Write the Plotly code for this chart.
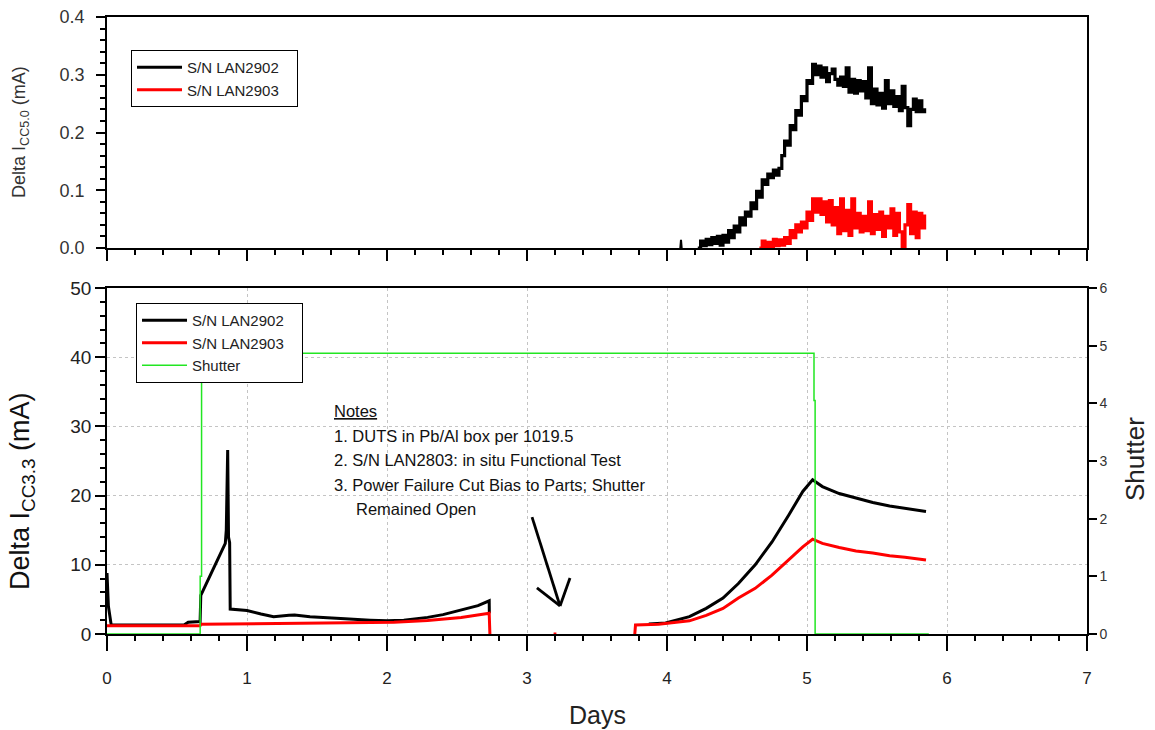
import plotly.graph_objects as go

# ---------------- data ----------------
# Top panel: Delta Icc5.0 (mA)
top_spike_days = [4.095, 4.100, 4.105]
top_spike_vals = [0.000, 0.014, 0.000]

top_2902_days = [4.22, 4.24, 4.26, 4.28, 4.30, 4.32, 4.34, 4.36, 4.38, 4.40,
                 4.42, 4.44, 4.46, 4.48, 4.50, 4.52, 4.54, 4.56, 4.58, 4.60,
                 4.62, 4.64, 4.66, 4.68, 4.70, 4.72, 4.74, 4.76, 4.78, 4.80,
                 4.82, 4.84, 4.86, 4.88, 4.90, 4.92, 4.94, 4.96, 4.98, 5.00,
                 5.02, 5.04, 5.06, 5.08, 5.10, 5.12, 5.14, 5.16, 5.18, 5.20,
                 5.22, 5.24, 5.26, 5.28, 5.30, 5.32, 5.34, 5.36, 5.38, 5.40,
                 5.42, 5.44, 5.46, 5.48, 5.50, 5.52, 5.54, 5.56, 5.58, 5.60,
                 5.62, 5.64, 5.66, 5.68, 5.70, 5.72, 5.74, 5.76, 5.78, 5.80,
                 5.82, 5.84]
top_2902_vals = [0.000, 0.012, 0.004, 0.015, 0.006, 0.018, 0.008, 0.020, 0.005, 0.022,
                 0.010, 0.030, 0.018, 0.038, 0.028, 0.052, 0.040, 0.062, 0.055, 0.078,
                 0.068, 0.098, 0.088, 0.118, 0.110, 0.128, 0.122, 0.135, 0.126, 0.138,
                 0.160, 0.185, 0.178, 0.212, 0.205, 0.238, 0.230, 0.262, 0.255, 0.290,
                 0.285, 0.318, 0.300, 0.315, 0.296, 0.312, 0.288, 0.302, 0.310, 0.292,
                 0.282, 0.296, 0.280, 0.312, 0.270, 0.292, 0.268, 0.290, 0.272, 0.288,
                 0.260, 0.312, 0.250, 0.275, 0.248, 0.268, 0.242, 0.290, 0.250, 0.272,
                 0.245, 0.262, 0.238, 0.280, 0.243, 0.212, 0.240, 0.258, 0.236, 0.255,
                 0.236, 0.242]

top_2903_days = [4.66, 4.68, 4.70, 4.72, 4.74, 4.76, 4.78, 4.80, 4.82, 4.84,
                 4.86, 4.88, 4.90, 4.92, 4.94, 4.96, 4.98, 5.00, 5.02, 5.04,
                 5.06, 5.08, 5.10, 5.12, 5.14, 5.16, 5.18, 5.20, 5.22, 5.24,
                 5.26, 5.28, 5.30, 5.32, 5.34, 5.36, 5.38, 5.40, 5.42, 5.44,
                 5.46, 5.48, 5.50, 5.52, 5.54, 5.56, 5.58, 5.60, 5.62, 5.64,
                 5.66, 5.68, 5.70, 5.72, 5.74, 5.76, 5.78, 5.80, 5.82, 5.84]
top_2903_vals = [0.000, 0.012, 0.002, 0.010, 0.000, 0.015, 0.004, 0.014, 0.005, 0.018,
                 0.008, 0.030, 0.018, 0.040, 0.028, 0.045, 0.035, 0.062, 0.048, 0.085,
                 0.062, 0.085, 0.058, 0.080, 0.045, 0.082, 0.040, 0.070, 0.025, 0.085,
                 0.030, 0.065, 0.022, 0.085, 0.035, 0.060, 0.028, 0.055, 0.030, 0.080,
                 0.025, 0.058, 0.032, 0.062, 0.020, 0.055, 0.035, 0.068, 0.022, 0.060,
                 0.028, 0.000, 0.040, 0.075, 0.025, 0.062, 0.018, 0.060, 0.035, 0.058]

# Bottom panel: Delta Icc3.3 (mA)
bot_2902_days = [0.000, 0.010, 0.030, 0.550, 0.580, 0.665, 0.670, 0.700, 0.760, 0.820,
                 0.845, 0.852, 0.858, 0.862, 0.868, 0.876, 0.880, 0.950, 1.000, 1.100,
                 1.190, 1.300, 1.340, 1.450, 1.570, 1.700, 1.880, 2.000, 2.120, 2.290,
                 2.400, 2.530, 2.650, 2.730, 2.731, None,
                 3.870, 3.990, 4.160, 4.280, 4.400, 4.510, 4.630, 4.750, 4.870, 4.970,
                 5.040, 5.110, 5.230, 5.350, 5.470, 5.590, 5.700, 5.850]
bot_2902_vals = [8.8, 4.0, 1.3, 1.3, 1.7, 1.8, 5.6, 6.9, 9.4, 12.0,
                 13.1, 15.0, 22.0, 26.6, 14.0, 13.2, 3.6, 3.5, 3.4, 2.9,
                 2.5, 2.7, 2.75, 2.5, 2.4, 2.2, 2.0, 1.9, 2.0, 2.4,
                 2.8, 3.5, 4.1, 4.8, 3.0, None,
                 1.45, 1.6, 2.5, 3.7, 5.2, 7.3, 10.0, 13.3, 17.2, 20.6,
                 22.3, 21.3, 20.3, 19.6, 19.0, 18.5, 18.2, 17.7]

bot_2903_days = [0.000, 0.665, 0.670, 1.000, 1.500, 2.050, 2.290, 2.530, 2.730, 2.735,
                 None, 3.190, 3.210, None,
                 3.770, 3.775, 3.940, 4.160, 4.280, 4.400, 4.510, 4.630, 4.750, 4.870,
                 4.970, 5.040, 5.110, 5.230, 5.350, 5.470, 5.590, 5.700, 5.850]
bot_2903_vals = [1.2, 1.2, 1.4, 1.45, 1.55, 1.7, 1.95, 2.4, 3.0, 0.0,
                 None, 0.0, 0.0, None,
                 0.0, 1.3, 1.4, 1.9, 2.7, 3.7, 5.2, 6.6, 8.5, 10.7,
                 12.6, 13.7, 13.1, 12.5, 12.0, 11.7, 11.3, 11.1, 10.7]

shutter_days = [0.0, 0.6655, 0.6655, 0.6755, 0.6755, 5.050, 5.050, 5.058, 5.058, 5.870]
shutter_vals = [0.0, 0.0, 1.0, 1.0, 4.87, 4.87, 4.05, 4.05, 0.0, 0.0]

notes_lines = ["<u>Notes</u>",
               "1. DUTS in Pb/Al box per 1019.5",
               "2. S/N LAN2803: in situ Functional Test",
               "3. Power Failure Cut Bias to Parts; Shutter",
               "Remained Open"]
notes_x = [1.607, 1.607, 1.607, 1.607, 1.764]
notes_y = [32.2, 28.6, 25.1, 21.5, 18.1]

legend_pad = "\u00a0\u00a0\u00a0"

# arrow (tail, tip, two head arms) in data coordinates of the lower panel
arrow_tail = (3.036, 16.9)
arrow_tip = (3.236, 4.05)
arrow_arm1 = (3.071, 6.65)
arrow_arm2 = (3.307, 8.09)

FONT = "Liberation Sans, Arial, sans-serif"
BLACK = "#000000"
RED = "#ff0000"
GREEN = "#22e622"

fig = go.Figure()

# top panel traces
fig.add_trace(go.Scatter(x=top_spike_days, y=top_spike_vals, mode="lines",
                         line=dict(color=BLACK, width=2), showlegend=False,
                         xaxis="x", yaxis="y"))
fig.add_trace(go.Scatter(x=top_2902_days, y=top_2902_vals, mode="lines",
                         line=dict(color=BLACK, width=3.2, shape="hv"),
                         name="S/N LAN2902" + legend_pad, legend="legend",
                         xaxis="x", yaxis="y"))
fig.add_trace(go.Scatter(x=top_2903_days, y=top_2903_vals, mode="lines",
                         line=dict(color=RED, width=3.2, shape="hv"),
                         name="S/N LAN2903" + legend_pad, legend="legend",
                         xaxis="x", yaxis="y"))

# bottom panel traces
fig.add_trace(go.Scatter(x=bot_2902_days, y=bot_2902_vals, mode="lines",
                         line=dict(color=BLACK, width=3), connectgaps=False,
                         name="S/N LAN2902" + legend_pad, legend="legend2",
                         xaxis="x2", yaxis="y2"))
fig.add_trace(go.Scatter(x=bot_2903_days, y=bot_2903_vals, mode="lines",
                         line=dict(color=RED, width=3), connectgaps=False,
                         name="S/N LAN2903" + legend_pad, legend="legend2",
                         xaxis="x2", yaxis="y2"))
fig.add_trace(go.Scatter(x=shutter_days, y=shutter_vals, mode="lines",
                         line=dict(color=GREEN, width=1.5),
                         name="Shutter", legend="legend2",
                         xaxis="x2", yaxis="y3"))

axis_common = dict(showline=True, linecolor=BLACK, linewidth=1.5,
                   ticks="outside", tickcolor=BLACK, tickwidth=1.5,
                   zeroline=False, automargin=False)

TOP_DOMAIN = [0.6256, 1.0]
BOT_DOMAIN = [0.0, 0.5608]
GRID = "#c4c4c4"

fig.update_layout(
    width=1155, height=730,
    margin=dict(l=107, r=68, t=17, b=96),
    paper_bgcolor="white", plot_bgcolor="white",
    font=dict(family=FONT, color="#222222"),
    xaxis=dict(domain=[0, 1], anchor="y", range=[0, 7], dtick=1,
               showticklabels=False, ticklen=11, mirror=True, showgrid=False,
               minor=dict(dtick=0.2, ticklen=5, tickcolor=BLACK, ticks="outside", showgrid=False),
               **axis_common),
    yaxis=dict(domain=TOP_DOMAIN, anchor="x", range=[0, 0.4], dtick=0.1,
               tickformat=".1f", ticklen=9, mirror=True, showgrid=False,
               tickfont=dict(size=18, color="#333333"), ticklabelstandoff=8,
               minor=dict(dtick=0.02, ticklen=5, tickcolor=BLACK, ticks="outside", showgrid=False),
               **axis_common),
    xaxis2=dict(domain=[0, 1], anchor="y2", range=[0, 7], dtick=1,
                ticklen=15, mirror=True, showgrid=True, griddash="dot",
                gridcolor=GRID, gridwidth=1, layer="below traces",
                tickfont=dict(size=17, color="#222222"), ticklabelstandoff=13,
                minor=dict(dtick=0.2, ticklen=5, tickcolor=BLACK, ticks="outside", showgrid=False),
                **axis_common),
    yaxis2=dict(domain=BOT_DOMAIN, anchor="x2", range=[0, 50], dtick=10,
                ticklen=10, mirror=True, showgrid=True, griddash="dot",
                gridcolor=GRID, gridwidth=1, layer="below traces",
                tickfont=dict(size=19, color="#222222"),
                minor=dict(dtick=2, ticklen=5, tickcolor=BLACK, ticks="outside", showgrid=False),
                **axis_common),
    yaxis3=dict(overlaying="y2", side="right", anchor="x2", range=[0, 6], dtick=1,
                ticklen=8, showgrid=False, layer="below traces",
                tickfont=dict(size=14, color="#333333"),
                **axis_common),
    legend=dict(x=0.0245, y=0.9465, xanchor="left", yanchor="top",
                bgcolor="white", bordercolor=BLACK, borderwidth=1,
                font=dict(size=15, color="#222222"), tracegroupgap=0,
                itemwidth=45),
    legend2=dict(x=0.0296, y=0.5365, xanchor="left", yanchor="top",
                 bgcolor="white", bordercolor=BLACK, borderwidth=1,
                 font=dict(size=15, color="#222222"), tracegroupgap=0,
                 itemwidth=45),
)

# axis titles as annotations (paper coordinates)
axis_titles = [
    dict(text="Delta I<sub>CC5.0</sub> (mA)", x=-0.0888, y=0.8136, angle=-90, size=18, color="#333333"),
    dict(text="Delta I<sub>CC3.3</sub> (mA)", x=-0.0867, y=0.2318, angle=-90, size=27, color="#111111"),
    dict(text="Shutter", x=1.049, y=0.2836, angle=-90, size=26, color="#222222"),
    dict(text="Days", x=0.5, y=-0.1313, angle=0, size=25, color="#222222"),
]
for t in axis_titles:
    fig.add_annotation(x=t["x"], y=t["y"], xref="paper", yref="paper", text=t["text"],
                       textangle=t["angle"], showarrow=False,
                       xanchor="center", yanchor="middle",
                       font=dict(size=t["size"], color=t["color"], family=FONT))

for txt, nx, ny in zip(notes_lines, notes_x, notes_y):
    fig.add_annotation(x=nx, y=ny, xref="x2", yref="y2", text=txt,
                       showarrow=False, xanchor="left", yanchor="middle",
                       font=dict(size=16.5, color="#111111", family=FONT))

for end in (arrow_tail, arrow_arm1, arrow_arm2):
    fig.add_shape(type="line", xref="x2", yref="y2",
                  x0=end[0], y0=end[1], x1=arrow_tip[0], y1=arrow_tip[1],
                  line=dict(color=BLACK, width=2.8))

fig.write_html("out.html")
